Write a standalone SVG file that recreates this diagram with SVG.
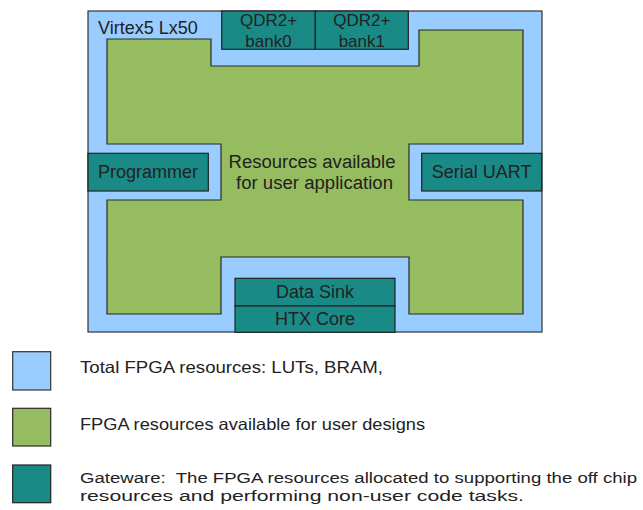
<svg xmlns="http://www.w3.org/2000/svg" width="643" height="510" viewBox="0 0 643 510">
<style>
.blue{fill:#99ccff;stroke:#333;stroke-width:1.2}
.green{fill:#95bc5e;stroke:#2a2a2a;stroke-width:1.2}
.teal{fill:#1a8a87;stroke:#222;stroke-width:1.2}
text{font-family:"Liberation Sans",Arial,sans-serif;fill:#222}
.big{font-size:18px}
.mid{font-size:17px}
.leg{font-size:16.5px}
.leg2{font-size:15.5px}
.c{text-anchor:middle}
</style>
<rect width="643" height="510" fill="#ffffff"/>
<g id="fpga">
<rect class="blue" x="88" y="11" width="454" height="321"/>
<text class="big" x="98" y="33.5">Virtex5 Lx50</text>
</g>
<g id="user-area">
<path class="green" d="M107,39 H211 V66 H419 V30 H523 V144 H409 V200 H523 V314 H409 V257 H221 V314 H107 V200 H221 V144 H107 Z"/>
<text class="big c" x="312" y="168" textLength="167" lengthAdjust="spacingAndGlyphs">Resources available</text>
<text class="big c" x="314.5" y="188.5" textLength="157" lengthAdjust="spacingAndGlyphs">for user application</text>
</g>
<g id="qdr0">
<rect class="teal" x="221.7" y="11" width="93.6" height="38.3"/>
<text class="mid c" x="268.5" y="26">QDR2+</text>
<text class="mid c" x="268.5" y="46.5">bank0</text>
</g>
<g id="qdr1">
<rect class="teal" x="315.3" y="11" width="93" height="38.3"/>
<text class="mid c" x="361.8" y="26">QDR2+</text>
<text class="mid c" x="361.8" y="46.5">bank1</text>
</g>
<g id="programmer">
<rect class="teal" x="88" y="153.3" width="120.3" height="37.7"/>
<text class="big c" x="148" y="178.3">Programmer</text>
</g>
<g id="uart">
<rect class="teal" x="421.7" y="153.3" width="120" height="37.7"/>
<text class="big c" x="481.7" y="178.3">Serial UART</text>
</g>
<g id="datasink">
<rect class="teal" x="235" y="278.3" width="160" height="27.7"/>
<text class="big c" x="315" y="298.3">Data Sink</text>
</g>
<g id="htx">
<rect class="teal" x="235" y="306" width="160" height="26.3"/>
<text class="big c" x="315" y="325">HTX Core</text>
</g>
<g id="connectors"></g>
<g id="legend">
<rect class="blue" x="12.7" y="351.7" width="38" height="38.3"/>
<text class="leg" x="80" y="373.3" textLength="303" lengthAdjust="spacingAndGlyphs">Total FPGA resources: LUTs, BRAM,</text>
<rect class="green" x="12.7" y="408.3" width="38" height="37.7"/>
<text class="leg" x="80" y="430" textLength="345" lengthAdjust="spacingAndGlyphs">FPGA resources available for user designs</text>
<rect class="teal" x="12.7" y="465" width="38" height="37.7"/>
<text class="leg2" x="80" y="483" textLength="557" lengthAdjust="spacingAndGlyphs" xml:space="preserve">Gateware:  The FPGA resources allocated to supporting the off chip</text>
<text class="leg2" x="80" y="500.5" textLength="444" lengthAdjust="spacingAndGlyphs">resources and performing non-user code tasks.</text>
</g>
</svg>
